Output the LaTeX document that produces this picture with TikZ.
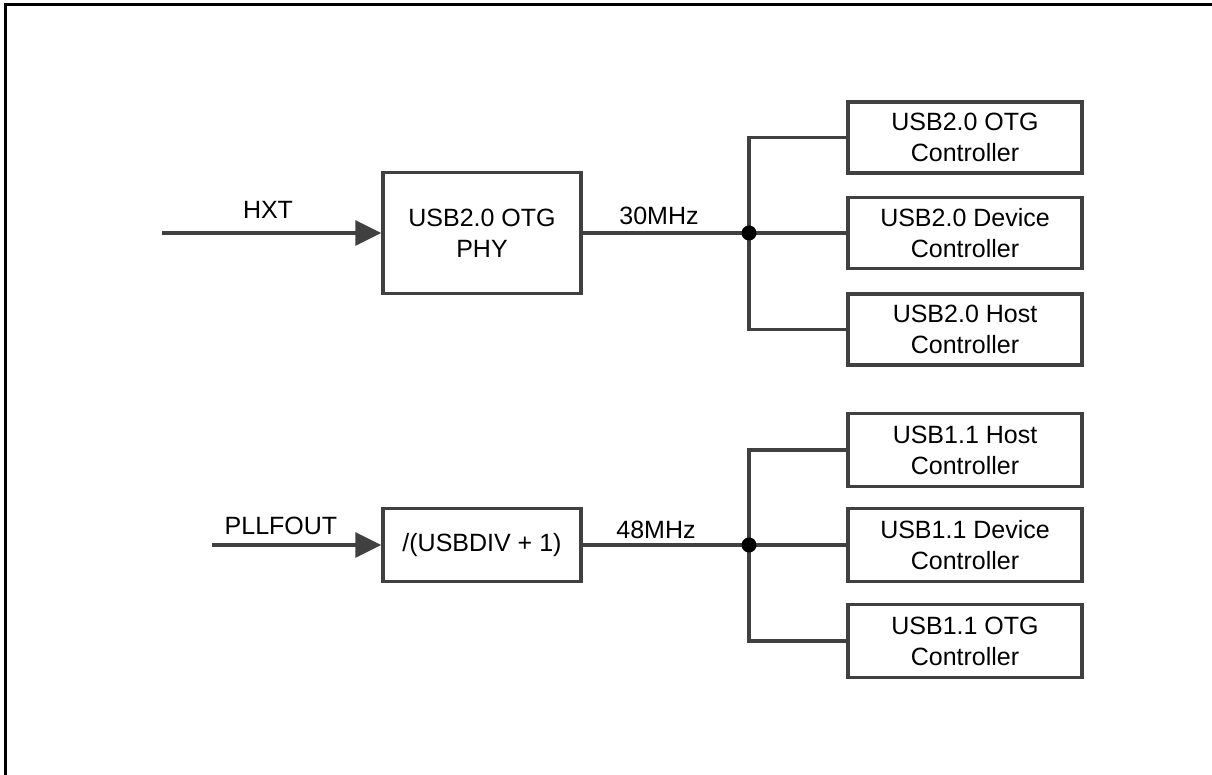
\documentclass[tikz,border=0pt]{standalone}
\usepackage{fontspec}
\setmainfont{Liberation Sans}
\usetikzlibrary{arrows.meta}
\definecolor{linec}{HTML}{404040}
\begin{document}
\begin{tikzpicture}[x=1pt,y=-1pt,
  every node/.style={font=\fontsize{25}{31}\selectfont, text=black},
  wire/.style={draw=linec, line width=3.4pt},
  blk/.style={draw=linec, line width=3.4pt, align=center, inner sep=0pt, minimum width=198pt},
  ctl/.style={draw=linec, line width=3.4pt, align=center, inner sep=0pt, minimum width=234pt, minimum height=71pt},
  lbl/.style={anchor=base, inner sep=0pt},
  tip/.style={-{Triangle[length=26pt,width=25pt,fill=linec,color=linec]}}]
\useasboundingbox (0,0) rectangle (1212,775);
% frame
\draw[black, line width=3pt] (5.3,775) -- (5.3,5) -- (1212,5);

% upper section
\node[blk, minimum height=121pt] (phy) at (482,233) {USB2.0 OTG\\PHY};
\coordinate (hxt) at (162,233);
\coordinate (j1) at (749,233);
\node[ctl] (c1) at (965,137.5) {USB2.0 OTG\\Controller};
\node[ctl] (c2) at (965,233) {USB2.0 Device\\Controller};
\node[ctl] (c3) at (965,329.5) {USB2.0 Host\\Controller};
\draw[wire, tip] (hxt) -- (phy.west);
\draw[wire] (phy.east) -- (j1);
\draw[wire] (j1) |- (c1.west);
\draw[wire] (j1) -- (c2.west);
\draw[wire] (j1) |- (c3.west);
\fill[black] (j1) circle (7.5pt);
\node[lbl] (lhxt) at (268,219) {HXT};
\node[lbl] (l30) at (659,225) {30MHz};

% lower section
\node[blk, minimum height=73pt] (div) at (482,545) {/(USBDIV + 1)};
\coordinate (pll) at (212,545);
\coordinate (j2) at (749,545);
\node[ctl, minimum height=73pt] (d1) at (965,450) {USB1.1 Host\\Controller};
\node[ctl, minimum height=73pt] (d2) at (965,545) {USB1.1 Device\\Controller};
\node[ctl, minimum height=73pt] (d3) at (965,641) {USB1.1 OTG\\Controller};
\draw[wire, tip] (pll) -- (div.west);
\draw[wire] (div.east) -- (j2);
\draw[wire] (j2) |- (d1.west);
\draw[wire] (j2) -- (d2.west);
\draw[wire] (j2) |- (d3.west);
\fill[black] (j2) circle (7.5pt);
\node[lbl] (lpll) at (281,534) {PLLFOUT};
\node[lbl] (l48) at (656,538) {48MHz};
\end{tikzpicture}
\end{document}
